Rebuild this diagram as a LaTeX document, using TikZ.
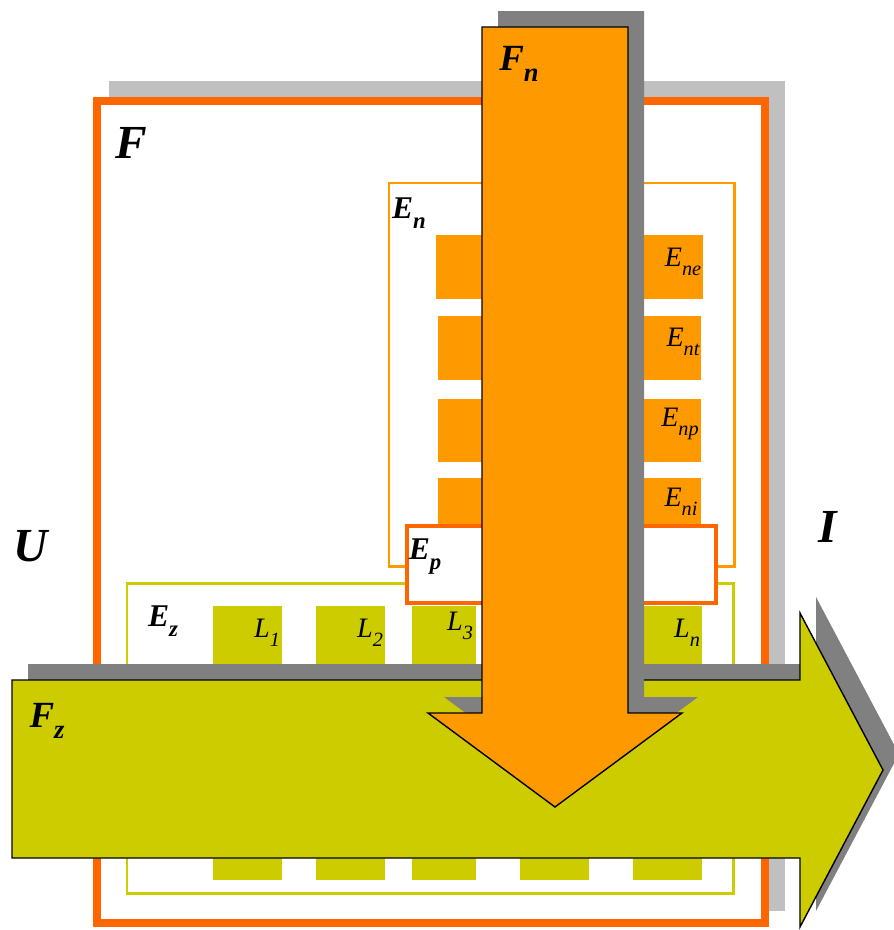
\documentclass[tikz,border=0pt]{standalone}
\usepackage{fontspec}
\setmainfont{Liberation Serif}
\usetikzlibrary{positioning}

\definecolor{rust}{HTML}{FF6600}
\definecolor{amber}{HTML}{FF9900}
\definecolor{olive}{HTML}{CCCC00}
\definecolor{flowgray}{HTML}{808080}
\definecolor{boxgray}{HTML}{C0C0C0}

% letter with a lowered, smaller index
\newcommand{\idx}[2]{#1\raisebox{-0.32em}{\scalebox{0.72}{#2}}}

\begin{document}
\begin{tikzpicture}[x=0.02cm,y=-0.02cm,
    biglab/.style={inner sep=0,font=\fontsize{27}{27}\selectfont\bfseries\itshape},
    flowlab/.style={inner sep=0,font=\fontsize{21}{21}\selectfont\bfseries\itshape},
    boxlab/.style={inner sep=0,font=\fontsize{18}{18}\selectfont\bfseries\itshape},
    partlab/.style={inner sep=0,font=\fontsize{16}{16}\selectfont\itshape},
    outline/.style={draw=black,line width=0.8pt,line join=miter}]
  \useasboundingbox (0,0) rectangle (893,930);

  % system F and its shadow
  \fill[boxgray] (109,81) rectangle (785,911);
  \draw[rust,line width=4.5pt,fill=white] (97,101) rectangle (765,923);

  % subsystem E_n with its elements
  \draw[amber,line width=1.7pt] (389,183) rectangle (734,566);
  \fill[amber] (436,235) rectangle (703,299);
  \fill[amber] (438,316) rectangle (701,380);
  \fill[amber] (438,399) rectangle (701,462);
  \fill[amber] (438,478) rectangle (701,560);

  % subsystem E_z with its elements
  \draw[olive,line width=1.7pt] (127,583) rectangle (733,893);
  \foreach \xa/\xb in {213/282,316/385,412/476,520/589,633/702}
    \fill[olive] (\xa,606) rectangle (\xb,880);

  % E_p box
  \draw[rust,line width=2pt,fill=white] (407,526) rectangle (716,603);

  % flow F_z
  \fill[flowgray,shift={(16,-16)}] (12,680) -- (800,680) -- (800,613) -- (883,770)
    -- (800,927) -- (800,858) -- (12,858) -- cycle;
  \draw[outline,fill=olive] (12,680) -- (800,680) -- (800,613) -- (883,770)
    -- (800,927) -- (800,858) -- (12,858) -- cycle;

  % flow F_n
  \fill[flowgray,shift={(16,-16)}] (482,27) -- (628,27) -- (628,713) -- (682,713)
    -- (555,807) -- (428,713) -- (482,713) -- cycle;
  \draw[outline,fill=amber] (482,27) -- (628,27) -- (628,713) -- (682,713)
    -- (555,807) -- (428,713) -- (482,713) -- cycle;

  % labels
  \node[biglab] (sysF) at (131,143) {F};
  \node[biglab] (envU) at (31,546) {U};
  \node[biglab] (envI) at (828,527) {I};
  \node[flowlab] (flowN) at (519,64) {\idx{F}{n}};
  \node[flowlab] (flowZ) at (47,721) {\idx{F}{z}};
  \node[boxlab] (subN) at (409,213) {\idx{E}{n}};
  \node[boxlab] (subP) at (425,557) {\idx{E}{p}};
  \node[boxlab] (subZ) at (163,621) {\idx{E}{z}};
  \node[partlab] (elNe) at (683,262) {\idx{E}{ne}};
  \node[partlab] (elNt) at (683,342) {\idx{E}{nt}};
  \node[partlab] (elNp) at (680,424) {\idx{E}{np}};
  \node[partlab] (elNi) at (681,502) {\idx{E}{ni}};
  \node[partlab] (linkA) at (267,633) {\idx{L}{1}};
  \node[partlab] (linkB) at (370,633) {\idx{L}{2}};
  \node[partlab] (linkC) at (460,626) {\idx{L}{3}};
  \node[partlab] (linkN) at (687,633) {\idx{L}{n}};
\end{tikzpicture}
\end{document}
